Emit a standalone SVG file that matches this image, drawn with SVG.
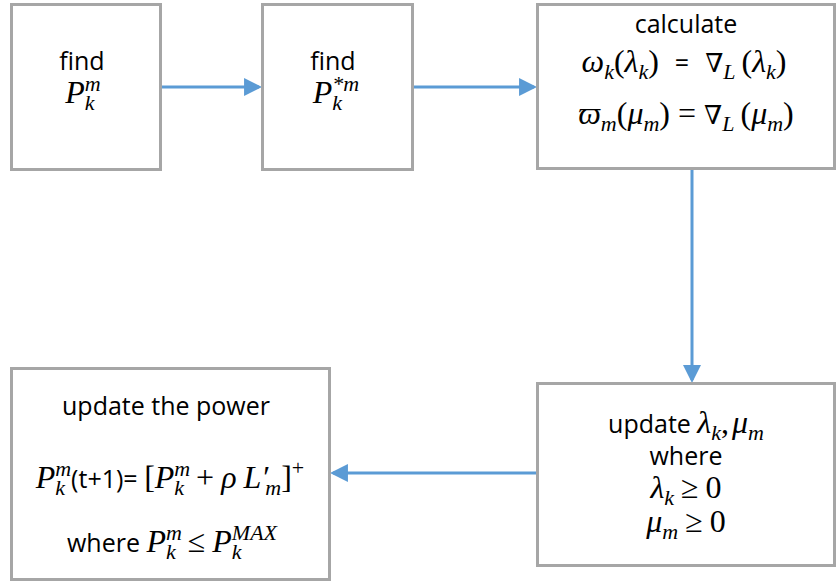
<svg xmlns="http://www.w3.org/2000/svg" width="837" height="584" viewBox="0 0 837 584">
<style>
.box{fill:#fff;stroke:#a6a6a6;stroke-width:3}
.t{font-family:"Open Sans","Liberation Sans",sans-serif;font-size:25px;font-style:normal;fill:#000}
.m{font-family:"Liberation Serif","DejaVu Serif",serif;font-style:italic;font-size:32px;fill:#000}
.u{font-family:"Liberation Serif","DejaVu Serif",serif;font-style:normal}
.s{font-size:22px}
.nb{font-size:26px}
.conn{stroke:#5b9bd5;stroke-width:3;fill:none;marker-end:url(#ah)}
</style>
<defs>
<marker id="ah" viewBox="0 0 10 10" refX="8.3" refY="5" markerWidth="6" markerHeight="6" orient="auto" markerUnits="strokeWidth">
<path d="M0,0 L10,5 L0,10 z" fill="#5b9bd5"/>
</marker>
</defs>
<rect width="837" height="584" fill="#fff"/>
<g id="connectors">
<line class="conn" x1="161" y1="87" x2="259" y2="87"/>
<line class="conn" x1="412" y1="87" x2="534" y2="87"/>
<line class="conn" x1="692" y1="170" x2="692" y2="380"/>
<line class="conn" x1="537" y1="473" x2="333" y2="473"/>
</g>
<g id="n1">
<rect class="box" x="11.5" y="4.5" width="149" height="165"/>
<text class="t" x="82" y="70" text-anchor="middle">find</text>
<text class="m" x="83" y="103" text-anchor="middle">P<tspan class="s" dy="-12">m</tspan><tspan class="s" dx="-15.9" dy="19">k</tspan><tspan dx="6.1" dy="-7"> </tspan></text>
</g>
<g id="n2">
<rect class="box" x="262.5" y="4.5" width="150" height="165"/>
<text class="t" x="333" y="70" text-anchor="middle">find</text>
<text class="m" x="336" y="103" text-anchor="middle">P<tspan class="s" dy="-12">*m</tspan><tspan class="s" dx="-26.9" dy="19">k</tspan><tspan dx="17.1" dy="-7"> </tspan></text>
</g>
<g id="n3">
<rect class="box" x="537.5" y="4.5" width="297" height="164"/>
<text class="t" x="686" y="33" text-anchor="middle">calculate</text>
<text class="m" x="684" y="72" text-anchor="middle">ω<tspan class="s" dy="7">k</tspan><tspan class="u" dy="-7">(</tspan>λ<tspan class="s" dy="7">k</tspan><tspan class="u" dy="-7">)</tspan><tspan class="t" dx="16">=</tspan><tspan class="nb" dx="16">∇</tspan><tspan class="s" dy="7">L</tspan><tspan class="u" dx="6" dy="-7">(</tspan>λ<tspan class="s" dy="7">k</tspan><tspan class="u" dy="-7">)</tspan></text>
<text class="m" x="686" y="124" text-anchor="middle">ϖ<tspan class="s" dy="7">m</tspan><tspan class="u" dy="-7">(</tspan>μ<tspan class="s" dy="7">m</tspan><tspan class="u" dy="-7">)</tspan><tspan class="u" dx="8">=</tspan><tspan class="nb" dx="8">∇</tspan><tspan class="s" dy="7">L</tspan><tspan class="u" dx="6" dy="-7">(</tspan>μ<tspan class="s" dy="7">m</tspan><tspan class="u" dy="-7">)</tspan></text>
</g>
<g id="n4">
<rect class="box" x="537.5" y="383.5" width="297" height="182"/>
<text class="t" x="686" y="433" text-anchor="middle">update <tspan class="m">λ</tspan><tspan class="m s" dy="7">k</tspan><tspan class="m u" dy="-7">,</tspan><tspan class="m" dx="3">μ</tspan><tspan class="m s" dy="7">m</tspan></text>
<text class="t" x="686" y="465" text-anchor="middle">where</text>
<text class="m" x="686" y="498" text-anchor="middle">λ<tspan class="s" dy="7">k</tspan><tspan class="u" dx="7" dy="-7">≥</tspan><tspan class="u" dx="7">0</tspan></text>
<text class="m" x="686" y="532" text-anchor="middle">μ<tspan class="s" dy="7">m</tspan><tspan class="u" dx="7" dy="-7">≥</tspan><tspan class="u" dx="7">0</tspan></text>
</g>
<g id="n5">
<rect class="box" x="11.5" y="368.5" width="318" height="211"/>
<text class="t" x="166" y="415" text-anchor="middle">update the power</text>
<text class="m" x="170" y="488" text-anchor="middle">P<tspan class="s" dy="-12">m</tspan><tspan class="s" dx="-15.9" dy="19">k</tspan><tspan class="t" dx="6.1" dy="-7">(t+1)= </tspan><tspan class="u">[</tspan>P<tspan class="s" dy="-12">m</tspan><tspan class="s" dx="-15.9" dy="19">k</tspan><tspan class="u" dx="12" dy="-7">+</tspan><tspan dx="7">ρ</tspan><tspan dx="7">L′</tspan><tspan class="s" dx="-3" dy="7">m</tspan><tspan class="u" dy="-7">]</tspan><tspan class="u s" dy="-13">+</tspan></text>
<text class="t" x="172" y="552" text-anchor="middle">where <tspan class="m">P</tspan><tspan class="m s" dy="-12">m</tspan><tspan class="m s" dx="-15.9" dy="19">k</tspan><tspan class="m u" dx="12" dy="-7">≤</tspan><tspan class="m" dx="7">P</tspan><tspan class="m s" dy="-12">MAX</tspan><tspan class="m s" dx="-45.2" dy="19">k</tspan><tspan class="m" dx="35.4" dy="-7"> </tspan></text>
</g>
</svg>
